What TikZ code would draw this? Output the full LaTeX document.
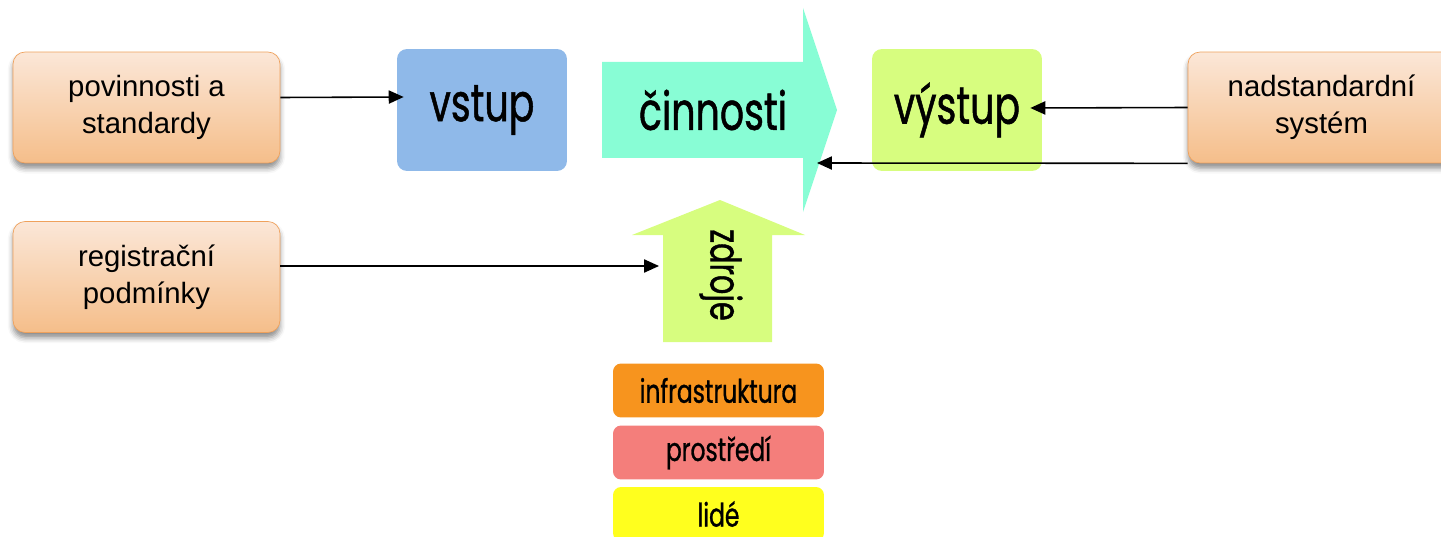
\documentclass[tikz,border=0pt]{standalone}
\usepackage{fontspec}
\setmainfont{Liberation Sans}
\newfontfamily\geofont[FakeStretch=0.72, FakeBold=0.9]{Poppins}
\usepackage{tikz}
\usetikzlibrary{arrows.meta}
\usetikzlibrary{calc, shadows.blur}
\definecolor{ruleorange}{HTML}{F5BE8A}
\definecolor{rulelight}{HTML}{FBE7D8}
\definecolor{ruleedge}{HTML}{EFA15C}
\definecolor{inputblue}{HTML}{8FB9E9}
\definecolor{actiongreen}{HTML}{88FDD5}
\definecolor{outputlime}{HTML}{D7FD7F}
\definecolor{infraorange}{HTML}{F7941E}
\definecolor{envred}{HTML}{F47E7B}
\definecolor{peopleyellow}{HTML}{FFFF1E}
\tikzset{
rulebox/.style = { rectangle, draw = ruleedge, top color = rulelight, bottom color = ruleorange, minimum width = 5.34cm, minimum height = 2.22cm, rounded corners = 0.24cm, align = center, font = \fontsize{16.7}{21}\selectfont, blur shadow = {shadow xshift = 0pt, shadow yshift = -3pt, shadow blur radius = 3pt, shadow opacity = 45} },
stagebox/.style = { rectangle, fill = #1, minimum width = 3.4cm, minimum height = 2.44cm, rounded corners = 0.2cm, font = \geofont\fontsize{30}{36}\selectfont },
resbox/.style = { rectangle, fill = #1, minimum width = 4.22cm, minimum height = 1.08cm, rounded corners = 0.16cm, font = \geofont\fontsize{18.5}{22}\selectfont },
link/.style = { line width = 0.9pt, -{Triangle[length = 8.5pt, width = 7.5pt]} },
}
\begin{document}
\begin{tikzpicture}[x = 0.02cm, y = -0.02cm]
    \path[use as bounding box, clip] (0, 0) rectangle (1441, 537);
    % big arrows
    \fill[actiongreen] (602, 62) -- (803, 62) -- (803, 8) -- (837, 110) -- (803, 212) -- (803, 158) -- (602, 158) -- cycle;
    \fill[outputlime] (663, 342) -- (663, 235) -- (632, 235) -- (720, 200) -- (805, 235) -- (772, 235) -- (772, 342) -- cycle;
    \node[font = \geofont\fontsize{30}{36}\selectfont] (cinnosti) at (713, 110) {činnosti};
    \node[font = \geofont\fontsize{24}{28}\selectfont, rotate = -90] (zdroje) at (721, 275) {zdroje};
    % stages
    \node[stagebox = inputblue] (vstup) at (482, 110) {vstup};
    \node[stagebox = outputlime] (vystup) at (957, 110) {výstup};
    % rules
    \node[rulebox] (povinnosti) at (146.5, 107.5) {povinnosti a\\standardy};
    \node[rulebox] (registrace) at (146.5, 277) {registrační\\podmínky};
    \node[rulebox] (nadstandard) at (1321.5, 107.5) {nadstandardní\\systém};
    % resources
    \node[resbox = infraorange] (infra) at (718.5, 390.5) {infrastruktura};
    \node[resbox = envred] (prostredi) at (718.5, 452.5) {prostředí};
    \node[resbox = peopleyellow] (lide) at (718.5, 514) {lidé};
    % connectors
    \coordinate (vstup in) at ($(vstup.west) + (7, -13)$);
    \coordinate (zdroje in) at (659, 266);
    \coordinate (vystup in) at ($(vystup.east) + (-12, -2)$);
    \coordinate (cinnosti in) at (817, 163);
    \draw[link] ($(povinnosti.east) + (0, -10)$) -- (vstup in);
    \draw[link] ($(registrace.east) + (0, -11)$) -- (zdroje in);
    \draw[link] (nadstandard.west) -- (vystup in);
    \draw[link] (nadstandard.south west) -- (cinnosti in);
\end{tikzpicture}
\end{document}
